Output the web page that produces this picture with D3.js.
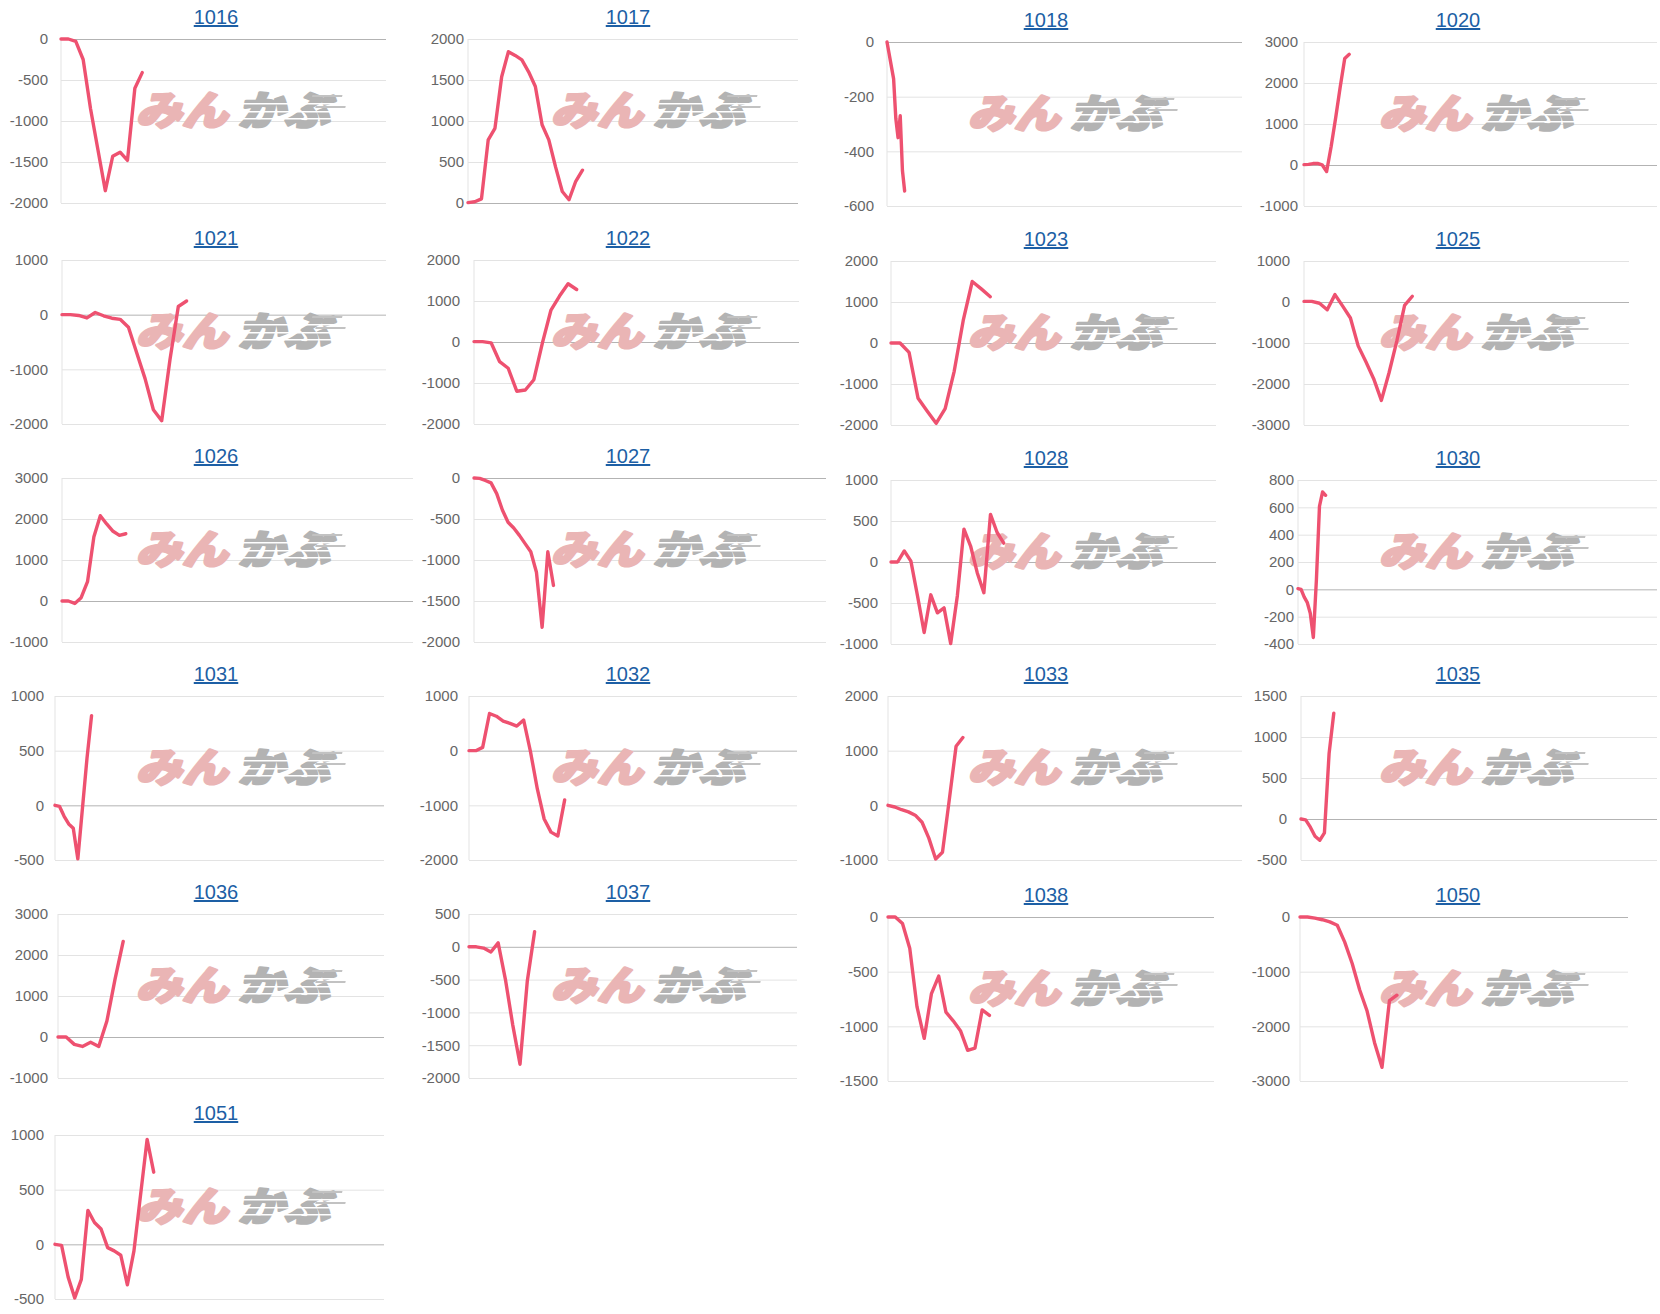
<!DOCTYPE html>
<html><head><meta charset="utf-8">
<script src="https://cdn.jsdelivr.net/npm/d3@7"></script>
<style>
html,body{margin:0;padding:0;background:#fff;}
svg{display:block;}
</style></head><body>
<svg id="chart" width="1660" height="1314"></svg>
<script>
// ---------- data ----------
const names = ["1016","1017","1018","1020","1021","1022","1023","1025","1026","1027","1028","1030","1031","1032","1033","1035","1036","1037","1038","1050","1051"];

const s1016 = [0, 0, -30, -250, -850, -1350, -1850, -1430, -1380, -1480, -600, -410];
const s1017 = [5, 15, 50, 770, 910, 1540, 1845, 1800, 1745, 1600, 1420, 955, 770, 440, 140, 40, 265, 400];
const s1018 = [0, -45, -90, -135, -280, -350, -270, -470, -545];
const s1020 = [10, 15, 35, 40, 5, -160, 450, 1150, 1900, 2600, 2700];
const s1021 = [0, 0, -15, -60, 40, -20, -65, -85, -230, -700, -1170, -1740, -1940, -820, 150, 250];
const s1022 = [10, 10, -20, -480, -640, -1200, -1170, -920, -20, 780, 1120, 1420, 1280];
const s1023 = [0, 0, -230, -1350, -1660, -1960, -1600, -690, 550, 1500, 1320, 1130];
const s1025 = [15, 15, -30, -190, 180, -100, -390, -1070, -1460, -1870, -2400, -1720, -950, -80, 140];
const s1026 = [0, 0, -60, 80, 470, 1570, 2080, 1880, 1700, 1600, 1640];
const s1027 = [0, -5, -30, -60, -190, -390, -540, -610, -700, -800, -900, -1150, -1820, -900, -1310];
const s1028 = [0, 0, 135, 10, -415, -860, -400, -620, -560, -995, -415, 400, 195, -130, -375, 580, 360, 230];
const s1030 = [5, 0, -55, -95, -175, -352, 70, 608, 712, 688];
const s1031 = [0, -10, -100, -170, -210, -490, -30, 430, 820];
const s1032 = [0, 0, 60, 680, 630, 540, 500, 450, 560, -20, -700, -1250, -1490, -1560, -900];
const s1033 = [0, -30, -80, -120, -180, -310, -600, -980, -860, 100, 1080, 1240];
const s1035 = [0, -10, -100, -210, -260, -170, 800, 1290];
const s1036 = [0, 0, -180, -230, -130, -230, 390, 1410, 2330];
const s1037 = [0, 0, -20, -80, 60, -500, -1190, -1790, -520, 230];
const s1038 = [0, 0, -60, -285, -820, -1110, -700, -540, -870, -950, -1040, -1220, -1200, -850, -900];
const s1050 = [0, 0, -20, -50, -90, -150, -460, -850, -1330, -1720, -2300, -2750, -1530, -1430];
const s1051 = [0, -10, -300, -490, -320, 310, 200, 140, -30, -60, -100, -370, -60, 450, 960, 660];

const seriesList = [s1016, s1017, s1018, s1020, s1021, s1022, s1023, s1025, s1026, s1027, s1028, s1030, s1031, s1032, s1033, s1035, s1036, s1037, s1038, s1050, s1051];

// number of x slots (categories) on each chart's x axis
const spans = [45, 50, 162, 79, 40, 39, 37, 43, 56, 63, 50, 118, 73, 49, 53, 77, 41, 46, 46, 45, 51];

// y axis tick ranges
const yMins  = [-2000, 0, -600, -1000, -2000, -2000, -2000, -3000, -1000, -2000, -1000, -400, -500, -2000, -1000, -500, -1000, -2000, -1500, -3000, -500];
const yMaxs  = [0, 2000, 0, 3000, 1000, 2000, 2000, 1000, 3000, 0, 1000, 800, 1000, 1000, 2000, 1500, 3000, 500, 0, 0, 1000];
const ySteps = [500, 500, 200, 1000, 1000, 1000, 1000, 1000, 1000, 500, 500, 200, 500, 1000, 1000, 500, 1000, 500, 500, 1000, 500];

// ---------- layout ----------
const titleX = [216, 628, 1046, 1458];
const markX = [135, 550, 967, 1378];
const plotLeft  = [61, 468, 887, 1304, 62, 474, 891, 1304, 62, 474, 891, 1298, 55, 469, 888, 1301, 58, 469, 888, 1300, 55];
const plotRight = [386, 798, 1242, 1657, 386, 799, 1216, 1629, 413, 826, 1216, 1657, 384, 797, 1242, 1657, 384, 797, 1214, 1628, 384];
const labelRight = [48, 464, 874, 1298, 48, 460, 878, 1290, 48, 460, 878, 1294, 44, 458, 878, 1287, 48, 460, 878, 1290, 44];
const plotTop = [39, 39, 42, 42, 260, 260, 261, 261, 478, 478, 480, 480, 696, 696, 696, 696, 914, 914, 917, 917, 1135];
const plotH = 164;

const FONT = "'Liberation Sans', Arial, Helvetica, sans-serif";
const LINE_COLOR = "#ee5170";

const svg = d3.select("#chart");

function watermark(g, x0, top) {
  const w = g.append("g").attr("transform", `translate(${x0},${top + 54}) skewX(-14)`);
  w.append("text").attr("x", 9).attr("y", 32).text("みん")
    .attr("font-family", "'Noto Sans CJK JP', sans-serif").attr("font-weight", 900)
    .attr("font-size", 40).attr("fill", "#eab5b5")
    .attr("stroke", "#eab5b5").attr("stroke-width", 2.6).attr("stroke-linejoin", "round")
    .attr("textLength", 92).attr("lengthAdjust", "spacingAndGlyphs");
  w.append("text").attr("x", 111).attr("y", 32).text("かぶ")
    .attr("font-family", "'Noto Sans CJK JP', sans-serif").attr("font-weight", 900)
    .attr("font-size", 40).attr("fill", "#b3b3b3")
    .attr("stroke", "#b3b3b3").attr("stroke-width", 2.6).attr("stroke-linejoin", "round")
    .attr("textLength", 92).attr("lengthAdjust", "spacingAndGlyphs");
  [10, 18, 25].forEach(yy => {
    w.append("rect").attr("x", 106).attr("y", yy).attr("width", 104).attr("height", 1.6).attr("fill", "#fff");
  });
  w.append("rect").attr("x", 178).attr("y", 2).attr("width", 30).attr("height", 2).attr("fill", "#c2c2c2");
  w.append("rect").attr("x", 184).attr("y", 13).attr("width", 30).attr("height", 2).attr("fill", "#c2c2c2");
}

names.forEach((name, i) => {
  const col = i % 4;
  const top = plotTop[i], bottom = top + plotH;
  const width = plotRight[i] - plotLeft[i];
  const x = d3.scaleLinear().domain([0, spans[i] - 1]).range([plotLeft[i], plotRight[i]]);
  const y = d3.scaleLinear().domain([yMins[i], yMaxs[i]]).range([bottom, top]);
  const g = svg.append("g").attr("class", "panel");

  // title (link style)
  g.append("text")
    .attr("x", titleX[col]).attr("y", top - 15)
    .attr("text-anchor", "middle")
    .attr("font-family", FONT).attr("font-size", 20)
    .attr("fill", "#1d5fa5")
    .style("text-decoration", "underline")
    .text(name);

  // y axis + grid
  const ticks = d3.range(yMins[i], yMaxs[i] + ySteps[i] / 2, ySteps[i]);
  const ax = g.append("g").attr("transform", `translate(${plotLeft[i]},0)`)
    .call(d3.axisLeft(y).tickValues(ticks)
      .tickSizeInner(-width).tickSizeOuter(0)
      .tickPadding(plotLeft[i] - labelRight[i])
      .tickFormat(d => String(d)));
  ax.select(".domain").remove();
  ax.selectAll(".tick line")
    .attr("stroke", d => d === 0 ? "#b3b3b3" : "#e3e3e3")
    .attr("stroke-width", 1);
  ax.selectAll(".tick text")
    .attr("fill", "#666").attr("font-size", 15).attr("font-family", FONT);

  // left axis line
  g.append("line")
    .attr("x1", plotLeft[i]).attr("x2", plotLeft[i])
    .attr("y1", top).attr("y2", bottom)
    .attr("stroke", "#e3e3e3");

  // watermark
  watermark(g, markX[col], top);

  // series line
  const line = d3.line()
    .x((d, k) => x(k))
    .y(d => y(d))
    .curve(d3.curveLinear);
  g.append("path")
    .datum(seriesList[i])
    .attr("d", line)
    .attr("fill", "none")
    .attr("stroke", LINE_COLOR)
    .attr("stroke-width", 3.4)
    .attr("stroke-linejoin", "round")
    .attr("stroke-linecap", "round");
});
</script>
</body></html>
